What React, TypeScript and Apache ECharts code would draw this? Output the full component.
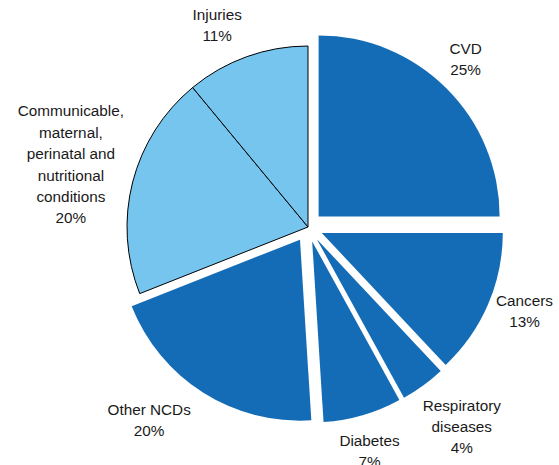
import React, { useEffect, useRef } from "react";
import * as echarts from "echarts";

// ---- data ----
const categories = [
  "CVD",
  "Cancers",
  "Respiratory diseases",
  "Diabetes",
  "Other NCDs",
  "Communicable, maternal, perinatal and nutritional conditions",
  "Injuries",
];
const labelLines = [
  "CVD",
  "Cancers",
  "Respiratory\ndiseases",
  "Diabetes",
  "Other NCDs",
  "Communicable,\nmaternal,\nperinatal and\nnutritional\nconditions",
  "Injuries",
];
const values = [25, 13, 4, 7, 20, 20, 11];
const groups = ["ncd", "ncd", "ncd", "ncd", "ncd", "other", "other"];

// ---- layout / style ----
const W = 559;
const H = 465;
const CX = 308;
const CY = 227;
const R = 181;
const OFFSET = 15;
const GAP = 11;
const DARK = "#136cb5";
const LIGHT = "#75c5ef";
const TEXT = "#1a1a1a";
const FONT = "'Liberation Sans', Arial, Helvetica, sans-serif";
// small hand adjustments of each label box (layout only, px)
const LABEL_NUDGE: [number, number][] = [
  [-5, 0],
  [-2, -10],
  [-7, 0],
  [-3, 4],
  [-8, -3],
  [2, -6],
  [-16, 0],
];

// how far the label box shifts from its anchor point, as a share of its half size
const boxShift = (c: number) =>
  Math.sign(c) * Math.min(1, Math.max(0, (Math.abs(c) - 0.2) / 0.35));

export default function App() {
  const ref = useRef<HTMLDivElement>(null);

  useEffect(() => {
    if (!ref.current) return;
    const chart = echarts.init(ref.current, undefined, { renderer: "svg" });
    const total = values.reduce((a, b) => a + b, 0);

    const darkData = values.map((v, i) => {
      const isNcd = groups[i] === "ncd";
      const st = isNcd
        ? { color: DARK, borderWidth: 0 }
        : { color: "transparent", borderWidth: 0 };
      return {
        name: categories[i],
        value: v,
        selected: isNcd,
        itemStyle: st,
        select: { itemStyle: st },
      };
    });

    const lightData = values.map((v, i) => {
      const isNcd = groups[i] === "ncd";
      return {
        name: categories[i],
        value: v,
        itemStyle: isNcd
          ? { color: "transparent", borderWidth: 0 }
          : { color: LIGHT, borderColor: "#000", borderWidth: 1 },
      };
    });

    chart.setOption({
      animation: false,
      series: [
        {
          type: "pie",
          center: [CX, CY],
          radius: [0, R],
          startAngle: 90,
          clockwise: true,
          selectedMode: "multiple",
          selectedOffset: OFFSET,
          silent: true,
          label: { show: false },
          labelLine: { show: false },
          emphasis: { disabled: true },
          data: darkData,
        },
        {
          type: "pie",
          center: [CX, CY],
          radius: [0, R],
          startAngle: 90,
          clockwise: true,
          silent: true,
          emphasis: { disabled: true },
          labelLine: { show: false },
          label: {
            show: true,
            position: "inside",
            color: TEXT,
            fontFamily: FONT,
            fontSize: 15.3,
            lineHeight: 21.4,
            textBorderWidth: 0,
            align: "center",
            formatter: (p: any) =>
              `${labelLines[p.dataIndex]}\n${Math.round(p.percent)}%`,
          },
          labelLayout: (p: any) => {
            const i = p.dataIndex;
            let cum = 0;
            for (let j = 0; j < i; j++) cum += values[j];
            const theta = (2 * Math.PI * (cum + values[i] / 2)) / total;
            const sx = Math.sin(theta);
            const sy = -Math.cos(theta);
            const w = p.labelRect.width;
            const h = p.labelRect.height;
            const off = groups[i] === "ncd" ? OFFSET : 0;
            const d = R + off + GAP;
            const px = CX + sx * d;
            const py = CY + sy * d;
            const [nx, ny] = LABEL_NUDGE[i];
            return {
              x: px + (boxShift(sx) * w) / 2 + nx,
              y: py + (boxShift(sy) * h) / 2 + ny,
              align: "center",
              verticalAlign: "middle",
            };
          },
          data: lightData,
        },
      ],
    });

    return () => chart.dispose();
  }, []);

  return (
    <div
      ref={ref}
      style={{
        position: "fixed",
        left: 0,
        top: 0,
        width: W,
        height: H,
        background: "#fff",
      }}
    />
  );
}
